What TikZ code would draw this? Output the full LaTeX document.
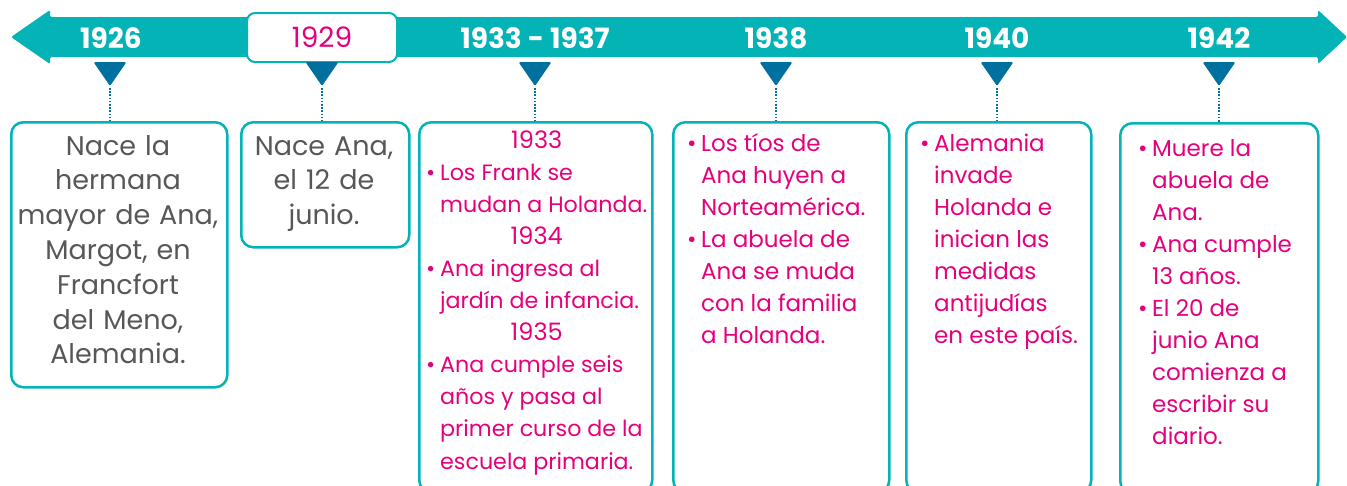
\documentclass[tikz,border=0pt]{standalone}
\usepackage{fontspec}
\setmainfont{Poppins}
\definecolor{teal1}{HTML}{04B3B6}
\definecolor{navy1}{HTML}{00719F}
\definecolor{pink1}{HTML}{E5007D}
\definecolor{gray1}{HTML}{575757}
\newcommand\bl{\textbullet}
\newcommand\yr[1]{\multicolumn{2}{c}{\fontsize{24}{32.1}\selectfont#1}}
\newenvironment{blist}{\begin{tabular}[t]{@{}p{14pt}@{}l@{}}}{\end{tabular}}
\begin{document}
\begin{tikzpicture}[x=1pt,y=-1pt,
  yearlbl/.style={text=white,font=\bfseries\fontsize{28}{32}\selectfont,inner sep=0pt},
  evbox/.style={draw=teal1,line width=2.5pt,rounded corners=12pt,anchor=north west,inner sep=0pt},
  tri/.style={fill=navy1,rounded corners=1.5pt},
  dotline/.style={draw=navy1,line width=2pt,dash pattern=on 1.6pt off 1.6pt},
  grtxt/.style={text=gray1,font=\fontsize{27}{34.8}\selectfont,align=center,inner sep=0pt,anchor=base},
  pktxt/.style={text=pink1,font=\fontsize{23}{32.1}\selectfont,inner sep=0pt,anchor=base west}]
\useasboundingbox (0,0) rectangle (1347,485);
\clip (0,0) rectangle (1347,485);
% timeline arrow
\fill[teal1,rounded corners=2pt] (11,37) -- (50,10) -- (50,17) -- (1318,17) -- (1318,10) -- (1347,37) -- (1318,64) -- (1318,57) -- (50,57) -- (50,64) -- cycle;
% year labels
\node[yearlbl] (y1926) at (111,38) {1926};
\node[draw=teal1,fill=white,line width=2pt,rounded corners=8pt,minimum width=150pt,minimum height=49pt,inner sep=0pt,text=pink1,font=\fontsize{28}{30}\selectfont] (y1929) at (322,37.5) {1929};
\node[yearlbl] (y1933) at (535,38) {1933 - 1937};
\node[yearlbl] (y1938) at (776,38) {1938};
\node[yearlbl] (y1940) at (997,38) {1940};
\node[yearlbl] (y1942) at (1219,38) {1942};
% triangles
\foreach \n/\x in {a/110,b/322,c/535,d/776,e/997,f/1219}{
  \fill[tri] (\x-16.5,62) -- (\x+16.5,62) -- (\x,86) -- cycle;
  \coordinate (t\n) at (\x,88);
}
% boxes
\node[evbox,minimum width=216pt,minimum height=265pt] (b1) at (10,121) {};
\node[evbox,minimum width=168pt,minimum height=125pt] (b2) at (240,121) {};
\node[evbox,minimum width=233pt,minimum height=370pt] (b3) at (418,121) {};
\node[evbox,minimum width=216pt,minimum height=370pt] (b4) at (672,121) {};
\node[evbox,minimum width=185pt,minimum height=370pt] (b5) at (905,121) {};
\node[evbox,minimum width=198pt,minimum height=370pt] (b6) at (1119,122) {};
% connectors
\draw[dotline] (ta) -- (ta |- b1.north);
\draw[dotline] (tb) -- (tb |- b2.north);
\draw[dotline] (tc) -- (tc |- b3.north);
\draw[dotline] (td) -- (td |- b4.north);
\draw[dotline] (te) -- (te |- b5.north);
\draw[dotline] (tf) -- (tf |- b6.north);
% texts
\node[grtxt,text width=214pt] (x1) at (118,155) {Nace la\\hermana\\mayor de Ana,\\Margot, en\\Francfort\\del Meno,\\Alemania.};
\node[grtxt,text width=166pt] (x2) at (324,155) {Nace Ana,\\el 12 de\\junio.};
\node[pktxt,font=\fontsize{22.2}{32.1}\selectfont] (x3) at (426,148) {\begin{blist}
\yr{1933}\\
\bl & Los Frank se\\
 & mudan a Holanda.\\
\yr{1934}\\
\bl & Ana ingresa al\\
 & jardín de infancia.\\
\yr{1935}\\
\bl & Ana cumple seis\\
 & años y pasa al\\
 & primer curso de la\\
 & escuela primaria.
\end{blist}};
\node[pktxt] (x4) at (687,151) {\begin{blist}
\bl & Los tíos de\\
 & Ana huyen a\\
 & Norteamérica.\\
\bl & La abuela de\\
 & Ana se muda\\
 & con la familia\\
 & a Holanda.
\end{blist}};
\node[pktxt] (x5) at (920,151) {\begin{blist}
\bl & Alemania\\
 & invade\\
 & Holanda e\\
 & inician las\\
 & medidas\\
 & antijudías\\
 & en este país.
\end{blist}};
\node[pktxt] (x6) at (1138,156) {\begin{blist}
\bl & Muere la\\
 & abuela de\\
 & Ana.\\
\bl & Ana cumple\\
 & 13 años.\\
\bl & El 20 de\\
 & junio Ana\\
 & comienza a\\
 & escribir su\\
 & diario.
\end{blist}};
\end{tikzpicture}
\end{document}
